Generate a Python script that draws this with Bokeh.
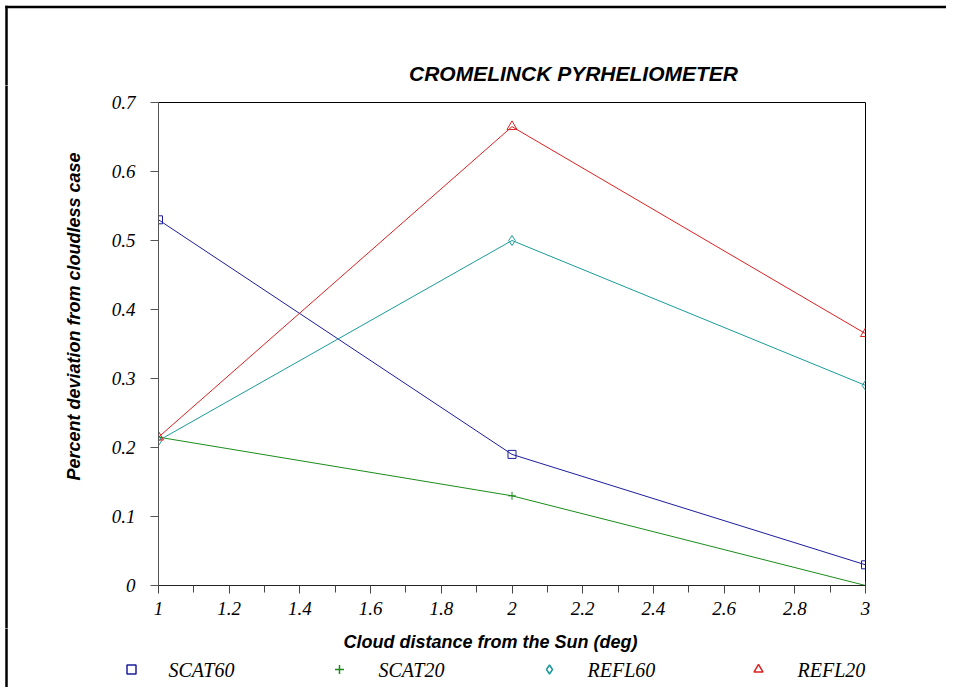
from bokeh.plotting import figure
from bokeh.models import Range1d, FixedTicker
from bokeh.layouts import column, row
from bokeh.core.properties import value
from bokeh.embed import file_html
from bokeh.resources import INLINE
import math

# ---- data ----
distance = [1, 2, 3]
scat60 = [0.53, 0.19, 0.03]
scat20 = [0.215, 0.13, 0.0]
refl60 = [0.21, 0.5, 0.29]
refl20 = [0.215, 0.665, 0.365]

x_ticks = [1.0, 1.2, 1.4, 1.6, 1.8, 2.0, 2.2, 2.4, 2.6, 2.8, 3.0]
x_tick_labels = ["1", "1.2", "1.4", "1.6", "1.8", "2", "2.2", "2.4", "2.6", "2.8", "3"]
x_minor = [1.1, 1.3, 1.5, 1.7, 1.9, 2.1, 2.3, 2.5, 2.7, 2.9]
y_ticks = [0.0, 0.1, 0.2, 0.3, 0.4, 0.5, 0.6, 0.7]
y_tick_labels = ["0", "0.1", "0.2", "0.3", "0.4", "0.5", "0.6", "0.7"]

series_names = ["SCAT60", "SCAT20", "REFL60", "REFL20"]
series_values = [scat60, scat20, refl60, refl20]

title_text = "CROMELINCK PYRHELIOMETER"
x_label = "Cloud distance from the Sun (deg)"
y_label = "Percent deviation from cloudless case"

# ---- styles / layout ----
colors = ["#1c1c9c", "#1a8c1a", "#1a9a9a", "#dd2020"]
markers = ["square", "cross", "diamond", "triangle"]
msizes = [8, 8, 10, 10]

W, H = 946, 687
TOP_H = 85          # title strip
MID_BOTTOM = 628    # page y where bottom strip begins
LEFT_W = 95         # y-label strip
FRAME_L, FRAME_R, FRAME_T, FRAME_B = 158, 865, 102, 585
BORDER = 6
sans = "Liberation Sans"
serif = "Liberation Serif"


def blank(w, h):
    f = figure(width=w, height=h, output_backend="svg", toolbar_location=None,
               x_range=Range1d(0, w), y_range=Range1d(0, h), min_border=0,
               x_axis_type=None, y_axis_type=None)
    f.outline_line_color = None
    f.background_fill_color = "white"
    f.border_fill_color = "white"
    f.frame_align = False
    return f


def left_border(f, h):
    f.line([BORDER, BORDER], [-10, h + 10], line_color="black", line_width=2.5)


# title strip
top = blank(W, TOP_H)
top.line([BORDER - 1.2, W + 10], [TOP_H - BORDER - 0.5] * 2, line_color="black", line_width=2.5)
top.line([BORDER, BORDER], [-10, TOP_H - BORDER + 0.7], line_color="black", line_width=2.5)
top.text(x=[573], y=[TOP_H - 73], text=[title_text], text_font=value(sans),
         text_font_style="bold italic", text_font_size="21px",
         text_align="center", text_baseline="middle", text_color="black")

# left strip (y label)
MID_H = MID_BOTTOM - TOP_H
left = blank(LEFT_W, MID_H)
left_border(left, MID_H)
left.text(x=[73], y=[MID_H - (316 - TOP_H)], text=[y_label], text_font=value(sans),
          text_font_style="bold italic", text_font_size="18px", angle=math.pi / 2,
          text_align="center", text_baseline="middle", text_color="black")

# main plot
p = figure(width=W - LEFT_W, height=MID_H, output_backend="svg", toolbar_location=None,
           x_range=Range1d(1, 3), y_range=Range1d(0, 0.7),
           min_border_left=FRAME_L - LEFT_W, min_border_right=W - FRAME_R,
           min_border_top=FRAME_T - TOP_H, min_border_bottom=MID_BOTTOM - FRAME_B)
p.frame_align = False
p.grid.visible = False
p.outline_line_color = "black"
p.background_fill_color = "white"
p.border_fill_color = "white"

p.xaxis.ticker = FixedTicker(ticks=x_ticks, minor_ticks=x_minor)
p.xaxis.major_label_overrides = {t: l for t, l in zip(x_ticks, x_tick_labels)}
p.yaxis.ticker = FixedTicker(ticks=y_ticks, minor_ticks=[])
p.yaxis.major_label_overrides = {t: l for t, l in zip(y_ticks, y_tick_labels)}
for ax in (p.xaxis[0], p.yaxis[0]):
    ax.major_label_text_font = serif
    ax.major_label_text_font_style = "italic"
    ax.major_label_text_font_size = "19px"
    ax.major_label_text_color = "black"
    ax.major_tick_in = 0
    ax.major_tick_out = 8
    ax.minor_tick_in = 0
    ax.minor_tick_out = 7
p.yaxis.axis_line_color = "#555555"
p.yaxis.major_tick_line_color = "#555555"
p.xaxis.axis_line_color = "#222222"
p.xaxis.major_tick_line_color = "#444444"
p.xaxis.minor_tick_line_color = "#444444"
p.yaxis.major_label_standoff = 15
p.xaxis.major_label_standoff = 8

for vals, col, mk, sz in zip(series_values, colors, markers, msizes):
    p.line(distance, vals, line_color=col, line_width=1)
    p.scatter(distance, vals, marker=mk, size=sz, line_color=col,
              fill_color=None, line_width=1)

# bottom strip (x label + legend)
BOT_H = H - MID_BOTTOM
bot = blank(W, BOT_H)
left_border(bot, BOT_H)
bot.text(x=[490], y=[BOT_H - (641 - MID_BOTTOM)], text=[x_label], text_font=value(sans),
         text_font_style="bold italic", text_font_size="18px",
         text_align="center", text_baseline="middle", text_color="black")
leg_marker_x = [131, 339, 549, 758]
leg_text_x = [168, 378, 587, 797]
leg_y = BOT_H - (669 - MID_BOTTOM)
for name, col, mk, mx, tx in zip(series_names, colors, markers, leg_marker_x, leg_text_x):
    bot.scatter([mx], [leg_y], marker=mk, size=9, line_color=col, fill_color=None, line_width=1.5)
    bot.text(x=[tx], y=[leg_y], text=[name], text_font=value(serif), text_font_style="italic",
             text_font_size="20px", text_align="left", text_baseline="middle",
             text_color="black")

layout = column(top, row(left, p), bot)
open("out.html", "w").write(file_html(layout, INLINE))
